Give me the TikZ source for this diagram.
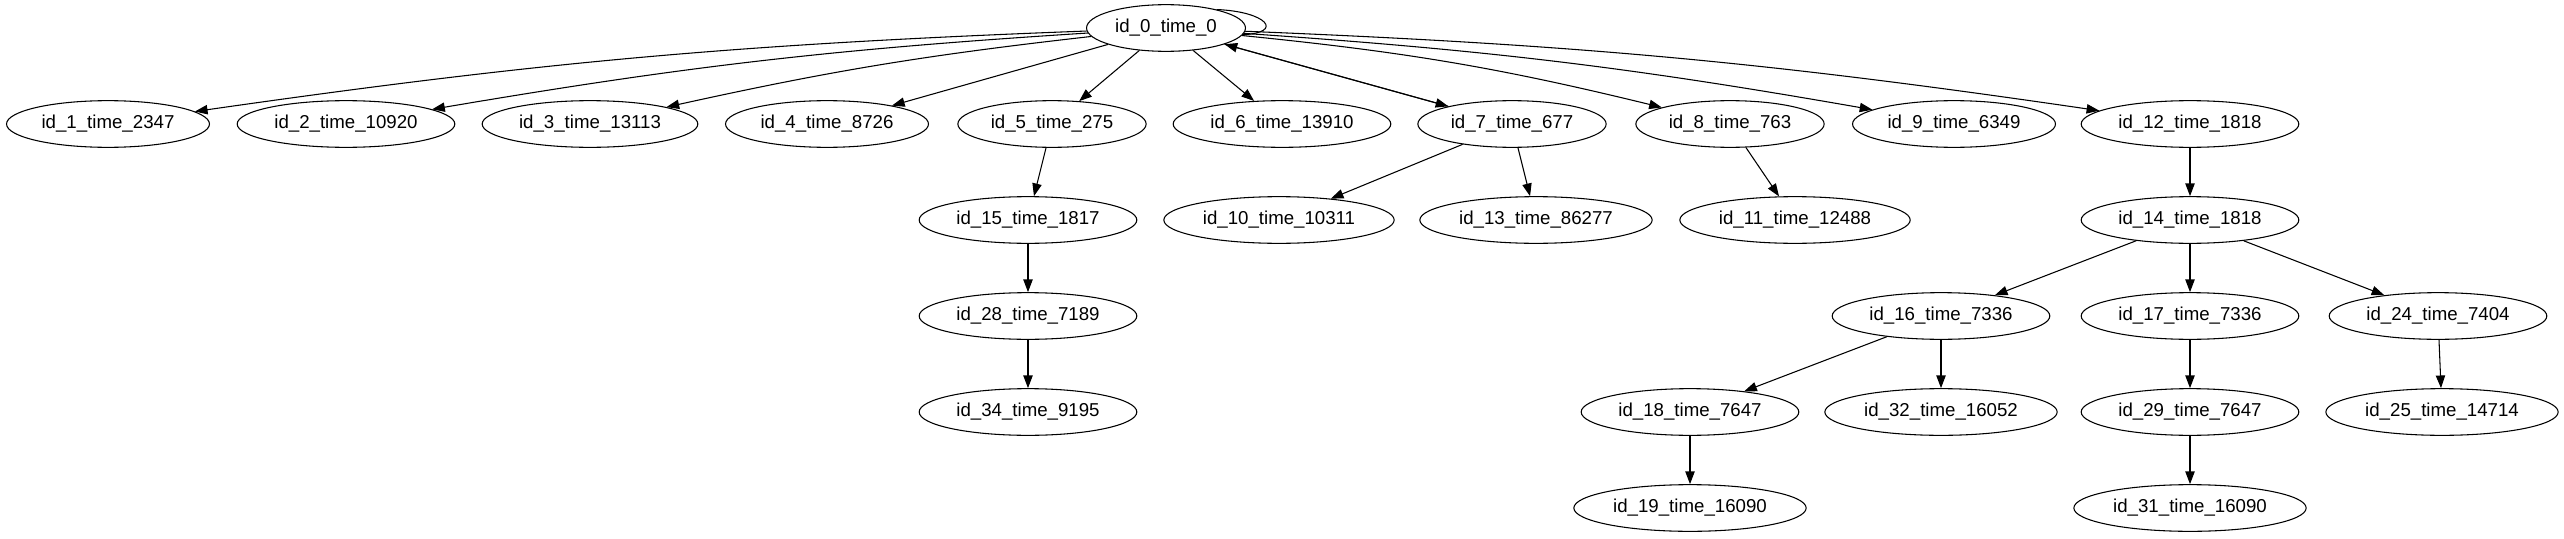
\documentclass[tikz,border=0pt]{standalone}
\usepackage{fontspec}
\setmainfont{Liberation Sans}
\usepackage{tikz}
\usetikzlibrary{shapes.geometric, arrows.meta}
\tikzset{
    % Node styles
    idnode/.style={
        ellipse,
        draw=black,
        line width=0.8pt,
        inner xsep=4pt,
        inner ysep=0pt,
        minimum height=35pt,
        font=\fontsize{14pt}{16pt}\selectfont
    },
    % Arrow styles
    treearrow/.style={
        -{Triangle[length=9.5pt,width=7pt]},
        line width=0.8pt,
        black
    },
    loopline/.style={
        line width=0.8pt,
        black
    }
}

\begin{document}
\begin{tikzpicture}[x=0.75pt,y=-0.75pt]
    \useasboundingbox (0,0) rectangle (2564,539);

    % Root
    \node[idnode] (id0) at (1166,28) {id\_0\_time\_0};

    % First level
    \node[idnode] (id1) at (108,124) {id\_1\_time\_2347};
    \node[idnode] (id2) at (346,124) {id\_2\_time\_10920};
    \node[idnode] (id3) at (590,124) {id\_3\_time\_13113};
    \node[idnode] (id4) at (827,124) {id\_4\_time\_8726};
    \node[idnode] (id5) at (1052,124) {id\_5\_time\_275};
    \node[idnode] (id6) at (1282,124) {id\_6\_time\_13910};
    \node[idnode] (id7) at (1512,124) {id\_7\_time\_677};
    \node[idnode] (id8) at (1730,124) {id\_8\_time\_763};
    \node[idnode] (id9) at (1954,124) {id\_9\_time\_6349};
    \node[idnode] (id12) at (2190,124) {id\_12\_time\_1818};

    % Second level
    \node[idnode] (id15) at (1028,220) {id\_15\_time\_1817};
    \node[idnode] (id10) at (1279,220) {id\_10\_time\_10311};
    \node[idnode] (id13) at (1536,220) {id\_13\_time\_86277};
    \node[idnode] (id11) at (1795,220) {id\_11\_time\_12488};
    \node[idnode] (id14) at (2190,220) {id\_14\_time\_1818};

    % Third level
    \node[idnode] (id28) at (1028,316) {id\_28\_time\_7189};
    \node[idnode] (id16) at (1941,316) {id\_16\_time\_7336};
    \node[idnode] (id17) at (2190,316) {id\_17\_time\_7336};
    \node[idnode] (id24) at (2438,316) {id\_24\_time\_7404};

    % Fourth level
    \node[idnode] (id34) at (1028,412) {id\_34\_time\_9195};
    \node[idnode] (id18) at (1690,412) {id\_18\_time\_7647};
    \node[idnode] (id32) at (1941,412) {id\_32\_time\_16052};
    \node[idnode] (id29) at (2190,412) {id\_29\_time\_7647};
    \node[idnode] (id25) at (2442,412) {id\_25\_time\_14714};

    % Fifth level
    \node[idnode] (id19) at (1690,508) {id\_19\_time\_16090};
    \node[idnode] (id31) at (2190,508) {id\_31\_time\_16090};

    % Edges from the root
    \draw[treearrow] (id0) to[bend right=3] (id1);
    \draw[treearrow] (id0) to[bend right=3] (id2);
    \draw[treearrow] (id0) to[bend right=3] (id3);
    \draw[treearrow] (id0) -- (id4);
    \draw[treearrow] (id0) -- (id5);
    \draw[treearrow] (id0) -- (id6);
    \draw[treearrow] (id0) -- (id7);
    \draw[treearrow] (id7) -- (id0);
    \draw[treearrow] (id0) to[bend left=4] (id8);
    \draw[treearrow] (id0) to[bend left=3] (id9);
    \draw[treearrow] (id0) to[bend left=3] (id12);

    % Self loop
    \draw[loopline] (id0.20) .. controls +(50,2) and +(42,-2) .. (id0.-5);

    % Lower edges
    \draw[treearrow] (id5) -- (id15);
    \draw[treearrow] (id15) -- (id28);
    \draw[treearrow] (id28) -- (id34);
    \draw[treearrow] (id7) -- (id10);
    \draw[treearrow] (id7) -- (id13);
    \draw[treearrow] (id8) -- (id11);
    \draw[treearrow] (id12) -- (id14);
    \draw[treearrow] (id14) -- (id16);
    \draw[treearrow] (id14) -- (id17);
    \draw[treearrow] (id14) -- (id24);
    \draw[treearrow] (id16) -- (id18);
    \draw[treearrow] (id16) -- (id32);
    \draw[treearrow] (id17) -- (id29);
    \draw[treearrow] (id24) -- (id25);
    \draw[treearrow] (id18) -- (id19);
    \draw[treearrow] (id29) -- (id31);
\end{tikzpicture}
\end{document}
